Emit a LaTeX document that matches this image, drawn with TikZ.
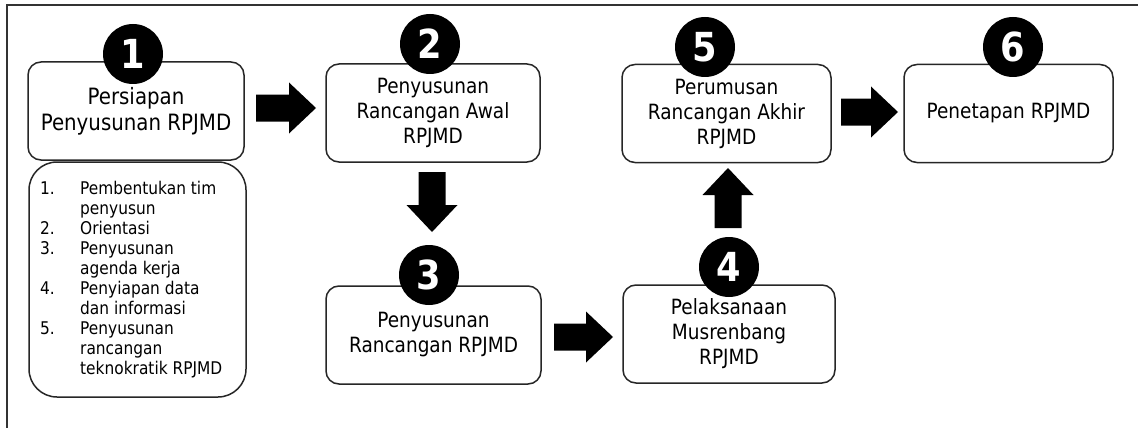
\documentclass[tikz,border=0pt]{standalone}
\usepackage{fontspec}
\setmainfont{DejaVu Sans}[FakeStretch=0.88]
\usetikzlibrary{calc}
\newcommand\fsz[2]{\fontsize{#1}{#2}\selectfont}
\newcommand\blockarrow[2]{%
  \coordinate (ba-h) at ($(#2)!27pt!(#1)$);
  \fill[arrowfill] ($(#1)!13.5pt!90:(#2)$) -- ($(ba-h)!13.5pt!90:(#2)$) -- ($(ba-h)!25.5pt!90:(#2)$) -- (#2)
    -- ($(ba-h)!25.5pt!-90:(#2)$) -- ($(ba-h)!13.5pt!-90:(#2)$) -- ($(#1)!13.5pt!-90:(#2)$) -- cycle;}
\begin{document}
\begin{tikzpicture}[x=1pt,y=-1pt,
  stepbox/.style={draw=black!85, line width=1.5pt, rounded corners=13pt, fill=white, align=center,
    inner sep=0pt, minimum height=98pt, font=\fsz{21}{25}},
  numcirc/.style={circle, fill=black, minimum size=60pt, inner sep=0pt, text=white, font=\fsz{40}{40}\bfseries},
  arrowfill/.style={fill=black},
  framestyle/.style={draw=black!80, line width=2pt}]
\fill[white] (0,0) rectangle (1138,428);
\useasboundingbox (0,0) rectangle (1138,428);
\draw[framestyle] (6.5,430) -- (6.5,5.5) -- (1140,5.5);

% boxes
\node[stepbox, minimum width=216pt, font=\fsz{22.5}{26}] (b1) at (136,111) {Persiapan\\Penyusunan RPJMD};
\node[stepbox, minimum width=217pt, minimum height=235pt, rounded corners=28pt] (list) at (137.5,279.5) {};
\node[stepbox, minimum width=214pt] (b2) at (433,113) {Penyusunan\\Rancangan Awal\\RPJMD};
\node[stepbox, minimum width=215pt] (b3) at (433.5,335) {Penyusunan\\Rancangan RPJMD};
\node[stepbox, minimum width=212pt] (b4) at (729,334) {Pelaksanaan\\Musrenbang\\RPJMD};
\node[stepbox, minimum width=209pt] (b5) at (726.5,113.5) {Perumusan\\Rancangan Akhir\\RPJMD};
\node[stepbox, minimum width=209pt] (b6) at (1008.5,113.5) {Penetapan RPJMD};

% list text
\node[anchor=base west, inner sep=0pt, font=\fsz{17.5}{20}] (listtext) at (40,194) {%
  \begin{tabular}[t]{@{}p{40pt}@{}l@{}}
  1. & Pembentukan tim\\
     & penyusun\\
  2. & Orientasi\\
  3. & Penyusunan\\
     & agenda kerja\\
  4. & Penyiapan data\\
     & dan informasi\\
  5. & Penyusunan\\
     & rancangan\\
     & teknokratik RPJMD
  \end{tabular}};

% number circles
\node[numcirc] (c1) at (133,54) {1};
\node[numcirc] (c2) at (430,44) {2};
\node[numcirc] (c3) at (429,275) {3};
\node[numcirc] (c4) at (729,267) {4};
\node[numcirc] (c5) at (705,47) {5};
\node[numcirc] (c6) at (1013,47) {6};

% arrows
\coordinate (a12s) at (256,108); \coordinate (a12e) at (316,108);
\coordinate (a23s) at (432,172); \coordinate (a23e) at (432,232);
\coordinate (a34s) at (554,337); \coordinate (a34e) at (613,337);
\coordinate (a45s) at (728,228); \coordinate (a45e) at (728,168);
\coordinate (a56s) at (841,112); \coordinate (a56e) at (898,112);
\blockarrow{a12s}{a12e}
\blockarrow{a23s}{a23e}
\blockarrow{a34s}{a34e}
\blockarrow{a45s}{a45e}
\blockarrow{a56s}{a56e}
\end{tikzpicture}
\end{document}
